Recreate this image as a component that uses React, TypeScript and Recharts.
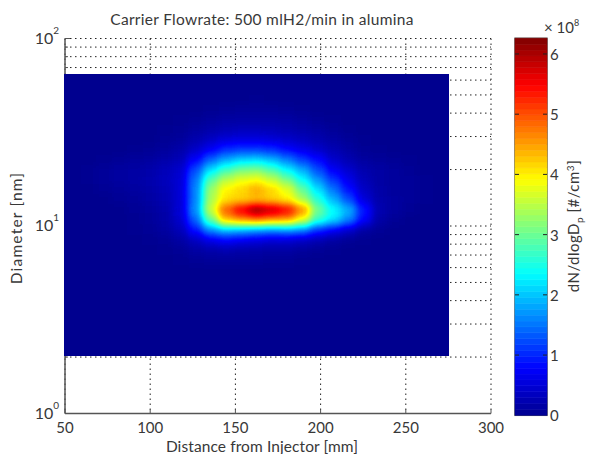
import React from "react";
import {
  ScatterChart,
  Scatter,
  BarChart,
  Bar,
  XAxis,
  YAxis,
  CartesianGrid,
} from "recharts";

// Cell centres of the image, mm along the tube and nm in log-spaced rows
const distances = [
  54.5, 63.5, 72.5, 81.5, 90.5, 99.5, 108.5, 117.5, 126.5, 135.5, 144.5, 153.5, 162.5,
  171.5, 180.5, 189.5, 198.5, 207.5, 216.5, 225.5, 234.5, 243.5, 252.5, 261.5, 270.5,
];
const diameters = [
  60.4, 53.4, 47.2, 41.7, 36.9, 32.6, 28.8, 25.5, 22.5, 19.9, 17.6, 15.6, 13.8, 12.2,
  10.75, 9.5, 8.4, 7.43, 6.57, 5.81, 5.13, 4.54, 4.01, 3.55, 3.14, 2.77, 2.45, 2.17,
];

// dN/dlogDp in units of 1e8, one row per diameter, one column per distance
const density = [
  [0, 0, 0, 0, 0, 0, 0, 0, 0, 0, 0, 0, 0, 0, 0, 0, 0, 0, 0, 0, 0, 0, 0, 0, 0],
  [0, 0, 0, 0, 0, 0, 0, 0, 0, 0, 0, 0, 0, 0, 0, 0, 0, 0, 0, 0, 0, 0, 0, 0, 0],
  [0, 0, 0, 0, 0, 0, 0, 0, 0, 0, 0, 0, 0.02, 0, 0, 0, 0, 0, 0, 0, 0, 0, 0, 0, 0],
  [0, 0, 0, 0, 0, 0, 0, 0, 0, 0.03, 0.05, 0.07, 0.08, 0.07, 0.05, 0.03, 0, 0, 0, 0, 0, 0, 0, 0, 0],
  [0, 0, 0, 0, 0, 0, 0, 0.03, 0.05, 0.1, 0.14, 0.16, 0.16, 0.16, 0.14, 0.1, 0.05, 0.03, 0, 0, 0, 0, 0, 0, 0],
  [0, 0, 0, 0, 0, 0, 0.03, 0.05, 0.12, 0.2, 0.28, 0.32, 0.32, 0.3, 0.25, 0.2, 0.14, 0.08, 0.03, 0, 0, 0, 0, 0, 0],
  [0, 0, 0, 0, 0, 0, 0.05, 0.1, 0.22, 0.4, 0.55, 0.6, 0.6, 0.55, 0.45, 0.35, 0.25, 0.14, 0.07, 0.03, 0, 0, 0, 0, 0],
  [0, 0, 0, 0, 0.03, 0.05, 0.1, 0.2, 0.42, 0.75, 1.05, 1.15, 1.15, 1.05, 0.85, 0.65, 0.45, 0.28, 0.14, 0.06, 0.03, 0, 0, 0, 0],
  [0, 0, 0.03, 0.06, 0.1, 0.12, 0.2, 0.3, 0.8, 1.4, 1.85, 2.1, 2.15, 1.95, 1.55, 1.15, 0.85, 0.45, 0.25, 0.12, 0.08, 0.05, 0.03, 0, 0],
  [0, 0.03, 0.08, 0.12, 0.15, 0.2, 0.3, 0.45, 1.25, 2.2, 2.75, 3.1, 3.15, 2.85, 2.35, 1.85, 1.25, 0.75, 0.45, 0.22, 0.15, 0.1, 0.05, 0, 0],
  [0, 0.03, 0.08, 0.12, 0.15, 0.22, 0.32, 0.5, 1.5, 2.9, 3.5, 3.8, 3.9, 3.6, 3.1, 2.4, 1.7, 1.1, 0.65, 0.3, 0.15, 0.1, 0.07, 0.03, 0],
  [0, 0, 0.04, 0.08, 0.12, 0.18, 0.28, 0.5, 1.6, 3.3, 4.0, 4.2, 4.5, 4.2, 3.8, 3.0, 2.2, 1.5, 0.9, 0.4, 0.18, 0.1, 0.07, 0.03, 0],
  [0, 0, 0, 0.04, 0.08, 0.15, 0.25, 0.5, 1.6, 3.4, 4.1, 4.2, 4.3, 4.2, 4.0, 3.4, 2.6, 1.9, 1.25, 0.55, 0.2, 0.12, 0.07, 0.03, 0],
  [0, 0, 0, 0, 0.05, 0.1, 0.2, 0.5, 1.7, 3.6, 5.0, 5.7, 6.3, 6.0, 5.6, 4.7, 3.1, 2.4, 1.9, 0.95, 0.25, 0.12, 0.05, 0, 0],
  [0, 0, 0, 0, 0.03, 0.08, 0.18, 0.45, 1.4, 3.0, 4.3, 4.6, 4.8, 4.6, 4.5, 3.8, 2.7, 2.2, 1.6, 0.8, 0.18, 0.05, 0, 0, 0],
  [0, 0, 0, 0, 0.03, 0.05, 0.12, 0.3, 0.9, 1.65, 2.0, 1.9, 1.75, 1.65, 1.75, 1.6, 1.05, 0.75, 0.45, 0.15, 0.05, 0, 0, 0, 0],
  [0, 0, 0, 0, 0, 0.03, 0.06, 0.14, 0.36, 0.65, 0.8, 0.7, 0.6, 0.5, 0.5, 0.4, 0.26, 0.14, 0.06, 0.03, 0, 0, 0, 0, 0],
  [0, 0, 0, 0, 0, 0, 0.03, 0.06, 0.14, 0.2, 0.24, 0.2, 0.18, 0.16, 0.14, 0.1, 0.05, 0.03, 0, 0, 0, 0, 0, 0, 0],
  [0, 0, 0, 0, 0, 0, 0, 0.03, 0.05, 0.07, 0.08, 0.07, 0.07, 0.06, 0.04, 0.03, 0, 0, 0, 0, 0, 0, 0, 0, 0],
  [0, 0, 0, 0, 0, 0, 0, 0, 0, 0, 0, 0, 0, 0, 0, 0, 0, 0, 0, 0, 0, 0, 0, 0, 0],
  [0, 0, 0, 0, 0, 0, 0, 0, 0, 0, 0, 0, 0, 0, 0, 0, 0, 0, 0, 0, 0, 0, 0, 0, 0],
  [0, 0, 0, 0, 0, 0, 0, 0, 0, 0, 0, 0, 0, 0, 0, 0, 0, 0, 0, 0, 0, 0, 0, 0, 0],
  [0, 0, 0, 0, 0, 0, 0, 0, 0, 0, 0, 0, 0, 0, 0, 0, 0, 0, 0, 0, 0, 0, 0, 0, 0],
  [0, 0, 0, 0, 0, 0, 0, 0, 0, 0, 0, 0, 0, 0, 0, 0, 0, 0, 0, 0, 0, 0, 0, 0, 0],
  [0, 0, 0, 0, 0, 0, 0, 0, 0, 0, 0, 0, 0, 0, 0, 0, 0, 0, 0, 0, 0, 0, 0, 0, 0],
  [0, 0, 0, 0, 0, 0, 0, 0, 0, 0, 0, 0, 0, 0, 0, 0, 0, 0, 0, 0, 0, 0, 0, 0, 0],
  [0, 0, 0, 0, 0, 0, 0, 0, 0, 0, 0, 0, 0, 0, 0, 0, 0, 0, 0, 0, 0, 0, 0, 0, 0],
  [0, 0, 0, 0, 0, 0, 0, 0, 0, 0, 0, 0, 0, 0, 0, 0, 0, 0, 0, 0, 0, 0, 0, 0, 0],
];

const xTicks = [50, 100, 150, 200, 250, 300];
const yTicks = [
  1, 2, 3, 4, 5, 6, 7, 8, 9, 10, 20, 30, 40, 50, 60, 70, 80, 90, 100,
];
const decadeLabels: Record<number, string> = { 1: "0", 10: "1", 100: "2" };
const colorbarTicks = [0, 1, 2, 3, 4, 5, 6];

// jet colormap, nine stops evenly spaced from 0 to 1
const jetRed = [0, 0, 0, 0, 0.5, 1, 1, 1, 0.5];
const jetGreen = [0, 0, 0.5, 1, 1, 1, 0.5, 0, 0];
const jetBlue = [0.5625, 1, 1, 1, 0.5, 0, 0, 0, 0];

const MAX_DENSITY = 6.3;
const COLORBAR_MAX = 6.26;
const LEVELS = 64;

const FONT = "Lato, sans-serif";
const INK = "#383838";
const AXIS = "#555";

const cells = diameters.flatMap((y, r) =>
  distances.map((x, c) => ({ x, y, v: density[r][c] })),
);

function jetAt(t: number) {
  const chan = (s: number[]) => {
    const p = t * 8;
    const i = Math.min(Math.floor(p), 7);
    return Math.round((s[i] + (s[i + 1] - s[i]) * (p - i)) * 255);
  };
  return `rgb(${chan(jetRed)},${chan(jetGreen)},${chan(jetBlue)})`;
}

const levelKeys = Array.from({ length: LEVELS }, (_, i) => `l${i}`);
const colorbarData = [
  Object.fromEntries(levelKeys.map((k) => [k, COLORBAR_MAX / LEVELS])),
];

// grey encodes the value; the filter smooths it and maps it through jet
function HeatCell(props: any) {
  const { cx, cy, payload } = props;
  const g = Math.round((payload.v / MAX_DENSITY) * 255);
  return (
    <rect
      x={cx - 7.7}
      y={cy - 5.05}
      width={15.4}
      height={10.1}
      fill={`rgb(${g},${g},${g})`}
    />
  );
}

function DiameterTick(props: any) {
  const { x, y, payload } = props;
  const label = decadeLabels[payload.value];
  const hidden = payload.value > 2 && payload.value < 64;
  return (
    <g>
      {!hidden && (
        <line x1={x} x2={x + (label ? 5 : 3)} y1={y} y2={y} stroke={AXIS} />
      )}
      {label && (
        <text x={x - 6} y={y + 5} textAnchor="end" fontFamily={FONT} fontSize={16} fill={INK}>
          10
          <tspan dy={-10} fontSize={10}>
            {label}
          </tspan>
        </text>
      )}
    </g>
  );
}

function DistanceTick(props: any) {
  const { x, y, payload } = props;
  return (
    <g>
      <line x1={x} x2={x} y1={y} y2={y - 4} stroke={AXIS} />
      <text x={x} y={y + 19} textAnchor="middle" fontFamily={FONT} fontSize={15} fill={INK}>
        {payload.value}
      </text>
    </g>
  );
}

function ColorbarTick(props: any) {
  const { x, y, payload } = props;
  return (
    <g>
      {payload.value > 0 && (
        <>
          <line x1={x} x2={x - 4} y1={y} y2={y} stroke="#222" />
          <line x1={x - 32} x2={x - 28} y1={y} y2={y} stroke="#222" />
        </>
      )}
      <text x={x + 3} y={y + 6} fontFamily={FONT} fontSize={15} fill={INK}>
        {payload.value}
      </text>
    </g>
  );
}

export default function App() {
  return (
    <div style={{ position: "absolute", left: 0, top: 0, width: 589, height: 454, background: "#fff" }}>
      <style>{`.heat-cells { filter: url(#heatFilter); }`}</style>

      <div style={{ position: "absolute", left: 0, top: 0 }}>
        <ScatterChart
          width={589}
          height={454}
          margin={{ top: 38.5, right: 98, bottom: 0.5, left: 5 }}
        >
          <defs>
            <filter
              id="heatFilter"
              x="0"
              y="0"
              width="1"
              height="1"
              colorInterpolationFilters="sRGB"
            >
              <feGaussianBlur stdDeviation="4" />
              <feComponentTransfer>
                <feFuncR type="table" tableValues={jetRed.join(" ")} />
                <feFuncG type="table" tableValues={jetGreen.join(" ")} />
                <feFuncB type="table" tableValues={jetBlue.join(" ")} />
                <feFuncA type="table" tableValues="1 1" />
              </feComponentTransfer>
            </filter>
          </defs>
          <CartesianGrid
            stroke="#222"
            strokeDasharray="1.5 3.5"
            horizontalValues={yTicks}
            verticalValues={xTicks}
          />
          <XAxis
            type="number"
            dataKey="x"
            domain={[50, 300]}
            ticks={xTicks}
            interval={0}
            height={40}
            tickLine={false}
            tickSize={0}
            tickMargin={0}
            tick={<DistanceTick />}
            axisLine={{ stroke: AXIS, strokeWidth: 1.5 }}
          />
          <YAxis
            type="number"
            dataKey="y"
            scale="log"
            domain={[1, 100]}
            ticks={yTicks}
            interval={0}
            width={60}
            tickLine={false}
            tickSize={0}
            tickMargin={0}
            tick={<DiameterTick />}
            axisLine={{ stroke: AXIS, strokeWidth: 1.5 }}
          />
          <Scatter
            className="heat-cells"
            data={cells}
            shape={<HeatCell />}
            isAnimationActive={false}
          />
          <text x={262} y={25} textAnchor="middle" fontFamily={FONT} fontSize={15.5} letterSpacing={0.3} fill={INK}>
            Carrier Flowrate: 500 mlH2/min in alumina
          </text>
          <text x={262} y={452} textAnchor="middle" fontFamily={FONT} fontSize={15.5} letterSpacing={0.1} fill={INK}>
            Distance from Injector [mm]
          </text>
          <text
            x={22}
            y={228}
            textAnchor="middle"
            fontFamily={FONT}
            fontSize={15.5}
            letterSpacing={1.2}
            fill={INK}
            transform="rotate(-90 22 228)"
          >
            Diameter [nm]
          </text>
        </ScatterChart>
      </div>

      <div style={{ position: "absolute", left: 0, top: 0 }}>
        <BarChart
          width={589}
          height={454}
          data={colorbarData}
          barCategoryGap={0}
          margin={{ top: 38.3, right: 2, bottom: 38.7, left: 515 }}
        >
          <XAxis hide />
          <YAxis
            orientation="right"
            type="number"
            domain={[0, COLORBAR_MAX]}
            ticks={colorbarTicks}
            interval={0}
            width={40}
            tickLine={false}
            tickSize={0}
            tickMargin={0}
            tick={<ColorbarTick />}
            axisLine={false}
          />
          {levelKeys.map((k, i) => {
            const fill = jetAt((i + 0.5) / LEVELS);
            return (
              <Bar
                key={k}
                dataKey={k}
                stackId="levels"
                fill={fill}
                stroke={fill}
                strokeWidth={0.6}
                isAnimationActive={false}
              />
            );
          })}
          <rect x={515} y={38.3} width={32} height={377} fill="none" stroke={AXIS} strokeWidth={1.5} />
          <text x={544} y={33} fontFamily={FONT} fontSize={15} fill={INK}>
            × 10
            <tspan dy={-7} fontSize={9}>
              8
            </tspan>
          </text>
          <text
            x={579}
            y={226}
            textAnchor="middle"
            fontFamily={FONT}
            fontSize={15}
            letterSpacing={0.5}
            fill={INK}
            transform="rotate(-90 579 226)"
          >
            dN/dlogD
            <tspan dy={4} fontSize={10}>
              p
            </tspan>
            <tspan dy={-4}> [#/cm</tspan>
            <tspan dy={-5} fontSize={10}>
              3
            </tspan>
            <tspan dy={5}>]</tspan>
          </text>
        </BarChart>
      </div>
    </div>
  );
}
